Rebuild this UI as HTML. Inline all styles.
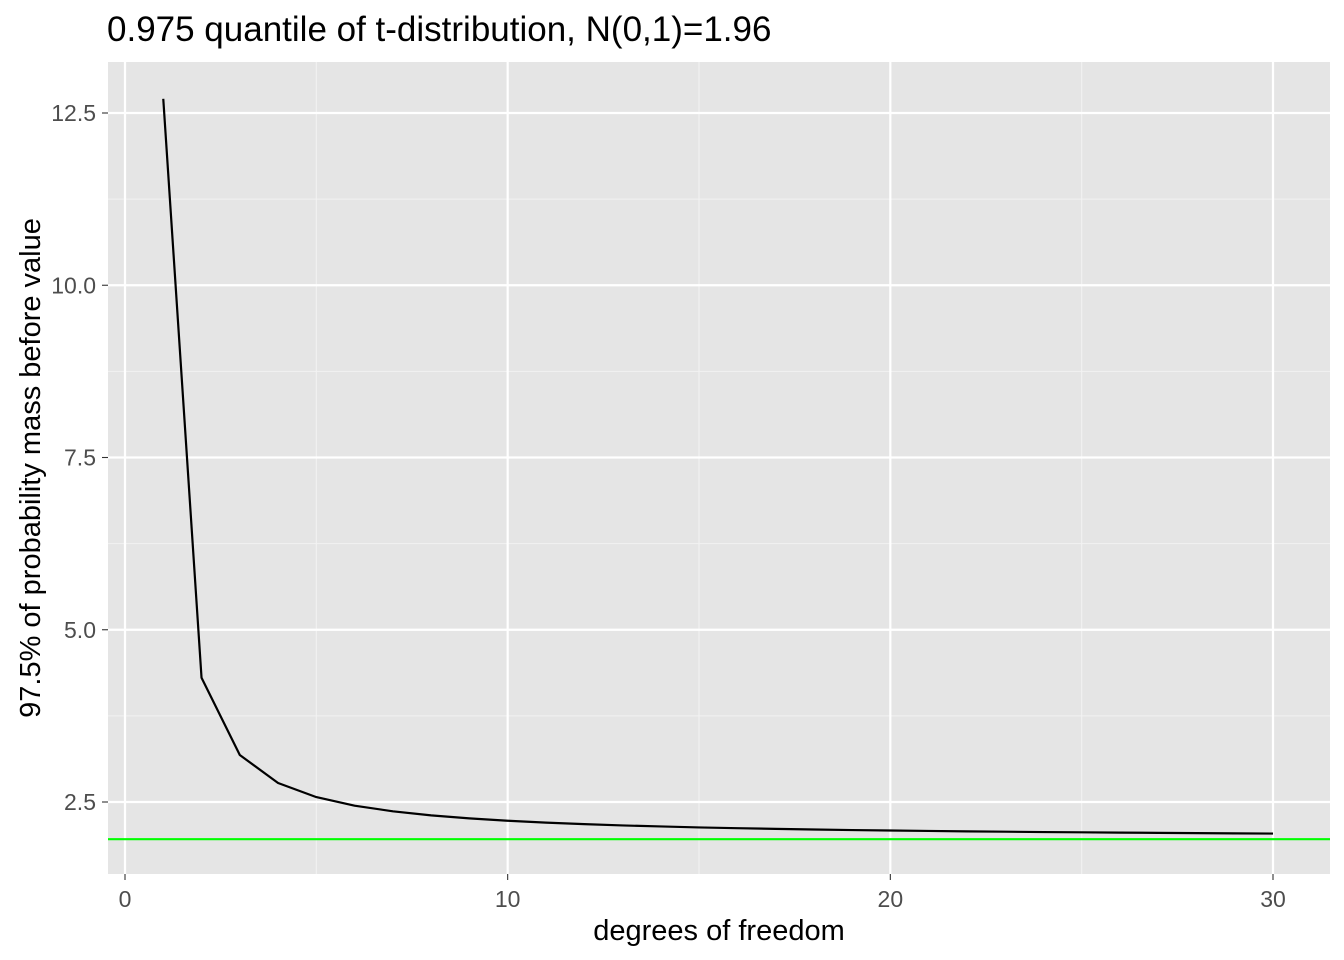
<!DOCTYPE html>
<html><head><meta charset="utf-8"><style>
html,body{margin:0;padding:0;background:#fff;}
svg{display:block;font-family:"Liberation Sans",Arial,sans-serif;}
</style></head><body>
<svg id="chart" width="1344" height="960"></svg>
<script>
const dfValues = [1,2,3,4,5,6,7,8,9,10,11,12,13,14,15,16,17,18,19,20,21,22,23,24,25,26,27,28,29,30];
const quantileValues = [12.706,4.303,3.182,2.776,2.571,2.447,2.365,2.306,2.262,2.228,2.201,2.179,2.160,2.145,2.131,2.120,2.110,2.101,2.093,2.086,2.080,2.074,2.069,2.064,2.060,2.056,2.052,2.048,2.045,2.042];
const normalRef = [1.96];
const xTicks = [0,10,20,30];
const xTickLabels = ["0","10","20","30"];
const yTicks = [2.5,5.0,7.5,10.0,12.5];
const yTickLabels = ["2.5","5.0","7.5","10.0","12.5"];

const svg = document.getElementById('chart');
const NS = 'http://www.w3.org/2000/svg';
const P = {l:108,r:1330,t:62,b:874};
const xs = v => 125 + (v-0)*(1273-125)/30;
const ys = v => 802 - (v-2.5)*(802-113)/10;
function mk(tag, attrs){const e=document.createElementNS(NS,tag);for(const k in attrs)e.setAttribute(k,attrs[k]);svg.appendChild(e);return e;}

const panel = mk('rect',{x:P.l,y:P.t,width:P.r-P.l,height:P.b-P.t,fill:'#e5e5e5'});



for(let i=0;i<xTicks.length-1;i++){
  const x=xs((xTicks[i]+xTicks[i+1])/2);
  const g=mk('line',{x1:x,x2:x,y1:P.t,y2:P.b,stroke:'#f2f2f2','stroke-width':1.1});
  
  
}
const yMinor=[yTicks[0]-1.25].concat(yTicks.map(v=>v+1.25));
yMinor.forEach(v=>{const y=ys(v); if(y<P.t||y>P.b)return;
  const g=mk('line',{x1:P.l,x2:P.r,y1:y,y2:y,stroke:'#f2f2f2','stroke-width':1.1});
  
  
});
xTicks.forEach((v,i)=>{const x=xs(v);
  const g=mk('line',{x1:x,x2:x,y1:P.t,y2:P.b,stroke:'#fff','stroke-width':2.2});
  
  
  const t=mk('line',{x1:x,x2:x,y1:P.b,y2:P.b+6,stroke:'#333','stroke-width':1.1});
  
  
  const l=mk('text',{x:x,y:P.b+33,'text-anchor':'middle','font-size':23,fill:'#4d4d4d'});
  l.textContent=xTickLabels[i];
  
  
});
yTicks.forEach((v,i)=>{const y=ys(v);
  const g=mk('line',{x1:P.l,x2:P.r,y1:y,y2:y,stroke:'#fff','stroke-width':2.2});
  
  
  const t=mk('line',{x1:P.l-6,x2:P.l,y1:y,y2:y,stroke:'#333','stroke-width':1.1});
  
  
  const l=mk('text',{x:P.l-12,y:y+8,'text-anchor':'end','font-size':23,fill:'#4d4d4d'});
  l.textContent=yTickLabels[i];
  
  
});
const pts=dfValues.map((d,i)=>xs(d)+','+ys(quantileValues[i])).join(' ');
const line=mk('polyline',{points:pts,fill:'none',stroke:'#000','stroke-width':2.2,'stroke-linejoin':'round'});


const gy=ys(normalRef[0]);
const h=mk('line',{x1:P.l,x2:P.r,y1:gy,y2:gy,stroke:'#00ff00','stroke-width':2.2});


const title=mk('text',{x:107,y:41,'font-size':35,fill:'#000'});
title.textContent='0.975 quantile of t-distribution, N(0,1)=1.96';


const xt=mk('text',{x:(P.l+P.r)/2,y:940,'text-anchor':'middle','font-size':29,fill:'#000'});
xt.textContent='degrees of freedom';


const yt=mk('text',{x:0,y:0,'text-anchor':'middle','font-size':29,fill:'#000',transform:'translate(40,'+((P.t+P.b)/2)+') rotate(-90)'});
yt.textContent='97.5% of probability mass before value';


</script>
</body></html>
